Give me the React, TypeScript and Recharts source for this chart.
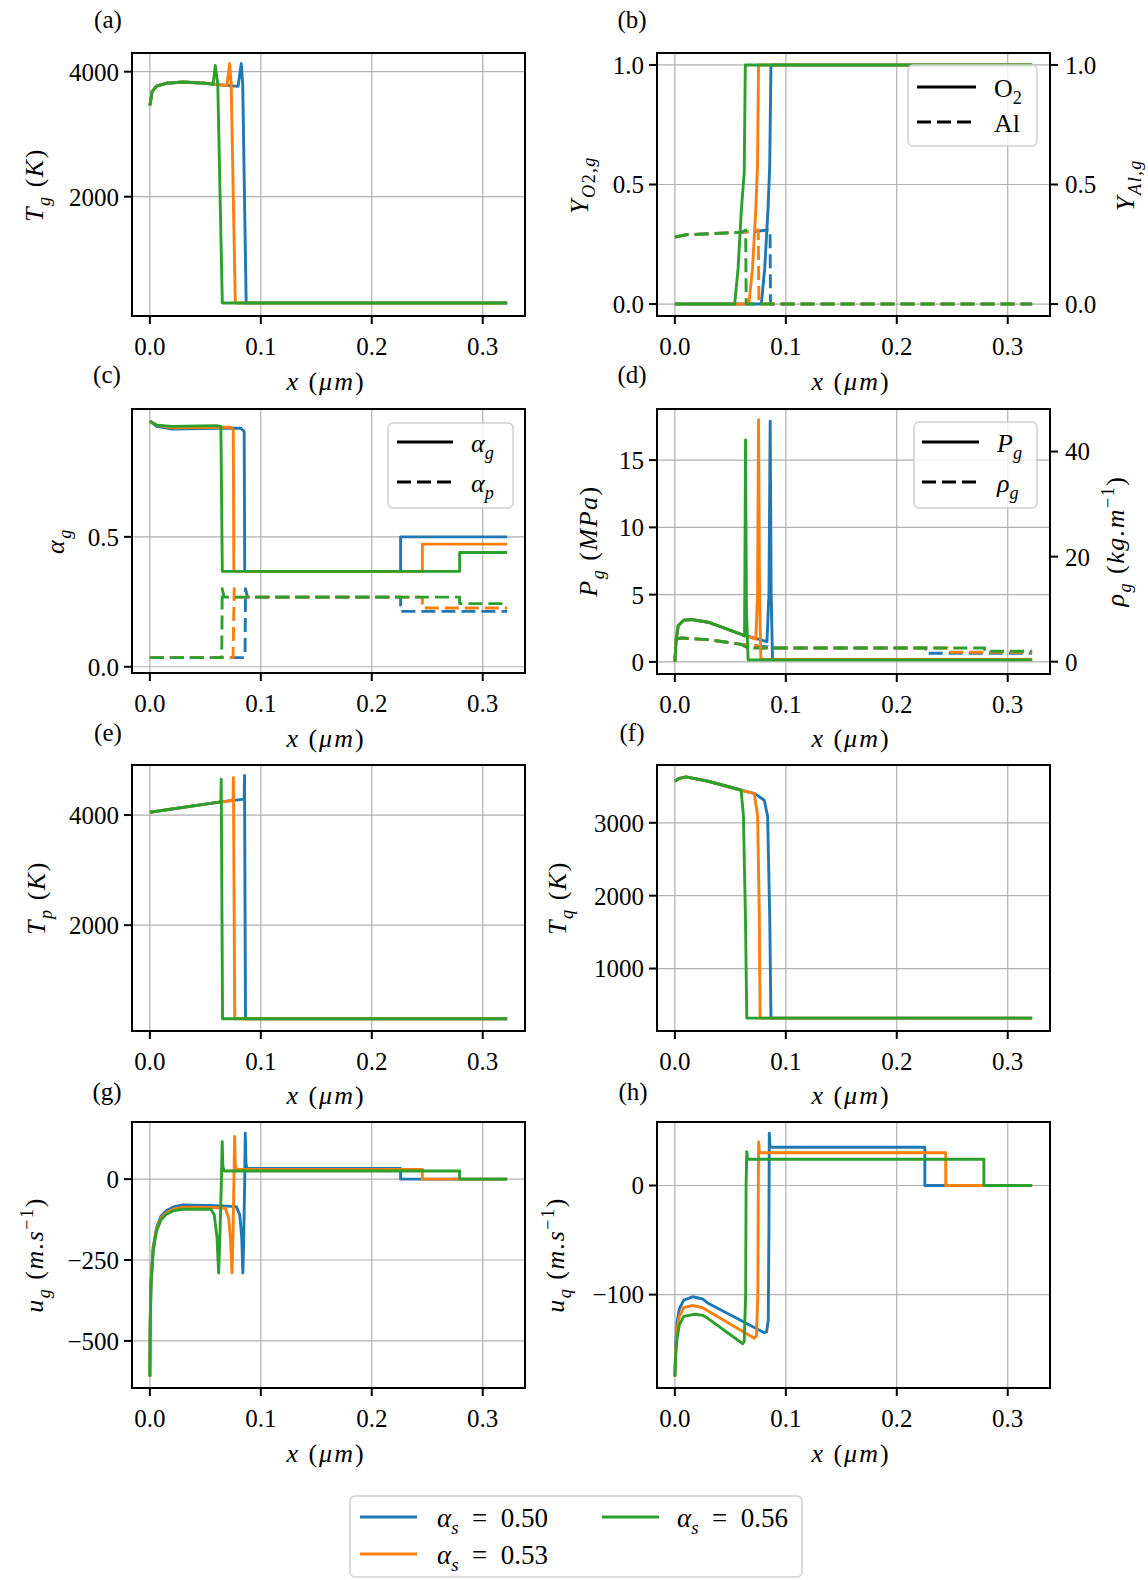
import React from "react";
import { CartesianGrid, Line, LineChart, ReferenceArea, XAxis, YAxis } from "recharts";

type Pt = [number, number];

const FONT = "'Liberation Serif', 'DejaVu Serif', serif";
const blue = "#1f77b4";
const orange = "#ff7f0e";
const green = "#2ca02c";
const dash = "14 6";
const lw = 2.9;

const xDomain = [-0.0161, 0.3381];
const xTicks = [0, 0.1, 0.2, 0.3];
const alphaLabels = ["0.50", "0.53", "0.56"];

// (a) gas temperature
const tgBlue: Pt[] = [[0, 3460], [0.002, 3680], [0.006, 3770], [0.015, 3815], [0.03, 3835], [0.05, 3815], [0.062, 3790], [0.0795, 3765], [0.0824, 4130], [0.0837, 3790], [0.0868, 300], [0.322, 300]];
const tgOrange: Pt[] = [[0, 3460], [0.002, 3680], [0.006, 3770], [0.015, 3815], [0.03, 3835], [0.05, 3815], [0.062, 3790], [0.0695, 3780], [0.0719, 4130], [0.0733, 3790], [0.077, 300], [0.322, 300]];
const tgGreen: Pt[] = [[0, 3460], [0.002, 3680], [0.006, 3770], [0.015, 3815], [0.03, 3835], [0.05, 3815], [0.057, 3800], [0.059, 4100], [0.0612, 3800], [0.0653, 300], [0.322, 300]];

// (b) O2 (solid) and Al (dashed) mass fractions
const o2Blue: Pt[] = [[0, 0], [0.0779, 0], [0.081, 0.15], [0.084, 0.4], [0.0855, 0.58], [0.0866, 1], [0.322, 1]];
const o2Orange: Pt[] = [[0, 0], [0.0667, 0], [0.07, 0.15], [0.073, 0.4], [0.0745, 0.58], [0.0754, 1], [0.322, 1]];
const o2Green: Pt[] = [[0, 0], [0.0539, 0], [0.057, 0.15], [0.06, 0.4], [0.0625, 0.55], [0.0635, 1], [0.322, 1]];
const alBlue: Pt[] = [[0, 0.28], [0.01, 0.29], [0.06, 0.3], [0.0858, 0.31], [0.0862, 0], [0.322, 0]];
const alOrange: Pt[] = [[0, 0.28], [0.01, 0.29], [0.06, 0.3], [0.0752, 0.31], [0.0757, 0], [0.322, 0]];
const alGreen: Pt[] = [[0, 0.28], [0.01, 0.29], [0.06, 0.3], [0.0638, 0.31], [0.0643, 0], [0.322, 0]];

// (c) gas (solid) and particle (dashed) volume fractions
const agBlue: Pt[] = [[0, 0.945], [0.006, 0.925], [0.02, 0.915], [0.06, 0.918], [0.082, 0.918], [0.085, 0.905], [0.0855, 0.367], [0.226, 0.367], [0.226, 0.5], [0.322, 0.5]];
const agOrange: Pt[] = [[0, 0.945], [0.006, 0.93], [0.02, 0.92], [0.06, 0.922], [0.073, 0.922], [0.0752, 0.91], [0.0757, 0.367], [0.2456, 0.367], [0.2456, 0.472], [0.322, 0.472]];
const agGreen: Pt[] = [[0, 0.945], [0.006, 0.93], [0.02, 0.925], [0.06, 0.928], [0.064, 0.925], [0.0653, 0.367], [0.2792, 0.367], [0.2792, 0.44], [0.322, 0.44]];
const apBlue: Pt[] = [[0, 0.035], [0.085, 0.035], [0.0858, 0.05], [0.0862, 0.3], [0.088, 0.268], [0.226, 0.268], [0.226, 0.213], [0.322, 0.213]];
const apOrange: Pt[] = [[0, 0.035], [0.075, 0.035], [0.076, 0.3], [0.078, 0.268], [0.2456, 0.268], [0.2456, 0.226], [0.322, 0.226]];
const apGreen: Pt[] = [[0, 0.035], [0.0648, 0.035], [0.0652, 0.3], [0.067, 0.268], [0.2792, 0.268], [0.2792, 0.243], [0.322, 0.243]];

// (d) pressure (solid, MPa) and density (dashed, right axis)
const pBlue: Pt[] = [[0, 0], [0.001, 1.5], [0.003, 2.7], [0.008, 3.1], [0.015, 3.15], [0.03, 2.95], [0.06, 2.05], [0.083, 1.5], [0.0848, 5], [0.0859, 17.9], [0.0868, 5], [0.088, 0.18], [0.322, 0.18]];
const pOrange: Pt[] = [[0, 0], [0.001, 1.5], [0.003, 2.7], [0.008, 3.1], [0.015, 3.15], [0.03, 2.95], [0.06, 2.05], [0.073, 1.7], [0.0745, 5], [0.0754, 18], [0.0763, 5], [0.0775, 0.18], [0.322, 0.18]];
const pGreen: Pt[] = [[0, 0], [0.001, 1.5], [0.003, 2.7], [0.008, 3.1], [0.015, 3.15], [0.03, 2.95], [0.06, 2.05], [0.0628, 1.9], [0.0637, 16.5], [0.0645, 4], [0.066, 0.15], [0.322, 0.15]];
const rhoBlue: Pt[] = [[0, 4.2], [0.005, 4.5], [0.03, 4.2], [0.06, 3.3], [0.084, 2.8], [0.087, 2.6], [0.226, 2.6], [0.226, 1.6], [0.322, 1.6]];
const rhoOrange: Pt[] = [[0, 4.2], [0.005, 4.5], [0.03, 4.2], [0.06, 3.3], [0.074, 3.0], [0.077, 2.6], [0.2456, 2.6], [0.2456, 1.8], [0.322, 1.8]];
const rhoGreen: Pt[] = [[0, 4.2], [0.005, 4.5], [0.03, 4.2], [0.06, 3.3], [0.063, 2.9], [0.066, 2.6], [0.2792, 2.6], [0.2792, 2.0], [0.322, 2.0]];

// (e) particle temperature
const tpBlue: Pt[] = [[0, 4050], [0.064, 4240], [0.085, 4290], [0.0853, 4720], [0.0862, 300], [0.322, 300]];
const tpOrange: Pt[] = [[0, 4050], [0.064, 4240], [0.075, 4265], [0.0753, 4680], [0.0765, 300], [0.322, 300]];
const tpGreen: Pt[] = [[0, 4050], [0.064, 4240], [0.0643, 4650], [0.0655, 300], [0.322, 300]];

// (f) condensed phase temperature
const tqBlue: Pt[] = [[0, 3570], [0.004, 3610], [0.01, 3630], [0.03, 3570], [0.059, 3450], [0.072, 3400], [0.0806, 3310], [0.0836, 3090], [0.0855, 1710], [0.0866, 320], [0.322, 320]];
const tqOrange: Pt[] = [[0, 3570], [0.004, 3610], [0.01, 3630], [0.03, 3570], [0.059, 3450], [0.0716, 3400], [0.0746, 3090], [0.0761, 1710], [0.0768, 320], [0.322, 320]];
const tqGreen: Pt[] = [[0, 3570], [0.004, 3610], [0.01, 3630], [0.03, 3570], [0.0597, 3450], [0.0618, 3090], [0.0636, 1710], [0.0648, 320], [0.322, 320]];

// (g) gas velocity
const ugBlue: Pt[] = [[0, -610], [0.0003, -450], [0.001, -320], [0.003, -210], [0.006, -150], [0.01, -115], [0.015, -97], [0.022, -85], [0.03, -80], [0.06, -82], [0.0779, -85], [0.081, -110], [0.0828, -180], [0.0838, -290], [0.0845, -200], [0.0855, 0], [0.086, 142], [0.0866, 50], [0.0875, 33], [0.226, 33], [0.226, 0], [0.322, 0]];
const ugOrange: Pt[] = [[0, -610], [0.0003, -450], [0.001, -325], [0.003, -215], [0.006, -155], [0.01, -120], [0.015, -103], [0.022, -92], [0.03, -87], [0.06, -88], [0.068, -90], [0.071, -120], [0.0728, -190], [0.074, -290], [0.0748, -190], [0.0758, 0], [0.0764, 132], [0.077, 45], [0.078, 30], [0.2456, 30], [0.2456, 0], [0.322, 0]];
const ugGreen: Pt[] = [[0, -610], [0.0003, -450], [0.001, -330], [0.003, -220], [0.006, -160], [0.01, -126], [0.015, -108], [0.022, -97], [0.03, -93], [0.055, -93], [0.058, -110], [0.0605, -180], [0.062, -290], [0.063, -190], [0.0645, 0], [0.0652, 116], [0.0658, 40], [0.067, 25], [0.2792, 25], [0.2792, 0], [0.322, 0]];

// (h) condensed phase velocity
const uqBlue: Pt[] = [[0, -175], [0.0008, -145], [0.002, -125], [0.004, -113], [0.008, -105], [0.016, -102], [0.025, -104], [0.03, -108], [0.0806, -135], [0.0827, -134], [0.0842, -123], [0.0848, -34], [0.0851, 48], [0.0858, 36], [0.088, 35], [0.2253, 35], [0.2253, 0], [0.322, 0]];
const uqOrange: Pt[] = [[0, -175], [0.0008, -150], [0.002, -132], [0.004, -120], [0.008, -112], [0.016, -110], [0.025, -112], [0.03, -115], [0.0716, -140], [0.0735, -138], [0.0748, -100], [0.0752, 0], [0.0755, 40], [0.0762, 30], [0.2441, 30], [0.2441, 0], [0.322, 0]];
const uqGreen: Pt[] = [[0, -175], [0.0008, -155], [0.002, -140], [0.004, -128], [0.008, -120], [0.018, -118], [0.025, -119], [0.03, -122], [0.0612, -145], [0.0625, -143], [0.0638, -100], [0.0642, 0], [0.0648, 31], [0.0655, 24], [0.2785, 24], [0.2785, 0], [0.322, 0]];

const num = (v: number) => (v < 0 ? "\u2212" + Math.abs(v) : String(v));
const fix1 = (v: number) => v.toFixed(1);

type Series = { pts: Pt[]; color: string; dashed?: boolean; right?: boolean };
type Box = { x: number; y: number; w: number; h: number };

const tickText = { fill: "#000", fontSize: 25, fontFamily: FONT };
const blackLine = { stroke: "#000", strokeWidth: 2 };

function Panel({ box, yDomain, yTicks, yFmt, rDomain, rTicks, series }: {
  box: Box;
  yDomain: number[];
  yTicks: number[];
  yFmt: (v: number) => string;
  rDomain?: number[];
  rTicks?: number[];
  series: Series[];
}) {
  const LW = 110;
  const RW = rDomain ? 70 : 0;
  const top = 10;
  const right = 10;
  const bottom = 50;
  return (
    <div style={{ position: "absolute", left: box.x - LW, top: box.y - top }}>
      <LineChart width={LW + box.w + RW + right} height={top + box.h + bottom} margin={{ top, right, bottom: 0, left: 0 }}>
        <CartesianGrid stroke="#b0b0b0" strokeWidth={1.2} />
        <XAxis type="number" dataKey="x" domain={xDomain} ticks={xTicks} interval={0} allowDataOverflow height={bottom}
          tickSize={8} tickMargin={13} tick={tickText} tickLine={blackLine} axisLine={blackLine} tickFormatter={fix1} />
        <YAxis type="number" domain={yDomain} ticks={yTicks} interval={0} allowDataOverflow width={LW}
          tickSize={8} tickMargin={5} tick={tickText} tickLine={blackLine} axisLine={blackLine} tickFormatter={yFmt} />
        {rDomain && (
          <YAxis yAxisId="r" orientation="right" type="number" domain={rDomain} ticks={rTicks} interval={0} allowDataOverflow width={RW}
            tickSize={8} tickMargin={7} tick={tickText} tickLine={blackLine} axisLine={blackLine} tickFormatter={yFmt} />
        )}
        <ReferenceArea x1={xDomain[0]} x2={xDomain[1]} y1={yDomain[0]} y2={yDomain[1]} fill="none" stroke="#000" strokeWidth={2} ifOverflow="visible" />
        {series.map((s, i) => (
          <Line key={i} yAxisId={s.right ? "r" : 0} data={s.pts.map(([x, y]) => ({ x, y }))} dataKey="y" type="linear"
            stroke={s.color} strokeWidth={lw} strokeDasharray={s.dashed ? dash : undefined} strokeLinejoin="round"
            dot={false} activeDot={false} isAnimationActive={false} />
        ))}
      </LineChart>
    </div>
  );
}

type Tok = { t: string; i?: boolean; s?: "sub" | "sup" };

function MathText({ toks, size }: { toks: Tok[]; size: number }) {
  let cur = 0;
  return (
    <>
      {toks.map((k, j) => {
        const off = k.s === "sub" ? size * 0.25 : k.s === "sup" ? -size * 0.4 : 0;
        const dy = off - cur;
        cur = off;
        return (
          <tspan key={j} dy={dy} fontStyle={k.i ? "italic" : "normal"} fontSize={k.s ? size * 0.7 : size}>{k.t}</tspan>
        );
      })}
    </>
  );
}

function YTitle({ cx, cy, toks }: { cx: number; cy: number; toks: Tok[] }) {
  return (
    <text transform={`translate(${cx + 9},${cy}) rotate(-90)`} textAnchor="middle" fontFamily={FONT} fontSize={26} letterSpacing={1.5} style={{ whiteSpace: "pre" }}>
      <MathText toks={toks} size={26} />
    </text>
  );
}

function XTitle({ cx, cy }: { cx: number; cy: number }) {
  return (
    <text x={cx} y={cy + 8} textAnchor="middle" fontFamily={FONT} fontSize={26} letterSpacing={2} style={{ whiteSpace: "pre" }}>
      <MathText toks={[{ t: "x", i: true }, { t: " (" }, { t: "μm", i: true }, { t: ")" }]} size={26} />
    </text>
  );
}

function Letter({ cx, cy, s }: { cx: number; cy: number; s: string }) {
  return <text x={cx} y={cy + 8} textAnchor="middle" fontFamily={FONT} fontSize={25}>({s})</text>;
}

function InnerLegend({ x, y, w, h, x1, x2, tx, rows }: { x: number; y: number; w: number; h: number; x1: number; x2: number; tx: number; rows: { ly: number; dashed: boolean; toks: Tok[] }[] }) {
  return (
    <g>
      <rect x={x} y={y} width={w} height={h} rx={5} fill="#fff" fillOpacity={0.8} stroke="#d0d0d0" strokeWidth={1.5} />
      {rows.map((r, i) => (
        <g key={i}>
          <line x1={x1} x2={x2} y1={r.ly} y2={r.ly} stroke="#000" strokeWidth={lw} strokeDasharray={r.dashed ? dash : undefined} />
          <text x={tx} y={r.ly + 10} fontFamily={FONT} fontSize={26} style={{ whiteSpace: "pre" }}>
            <MathText toks={r.toks} size={26} />
          </text>
        </g>
      ))}
    </g>
  );
}

const sub = (t: string, i = true): Tok => ({ t, i, s: "sub" });
const it = (t: string): Tok => ({ t, i: true });

export default function App() {
  const colL = 132;
  const colR = 657;
  const w = 393;
  return (
    <div style={{ position: "absolute", left: 0, top: 0, width: 1148, height: 1580, background: "#fff" }}>
      <Panel box={{ x: colL, y: 53, w, h: 263 }} yDomain={[91, 4299]} yTicks={[2000, 4000]} yFmt={num}
        series={[{ pts: tgBlue, color: blue }, { pts: tgOrange, color: orange }, { pts: tgGreen, color: green }]} />
      <Panel box={{ x: colR, y: 53, w, h: 263 }} yDomain={[-0.05, 1.05]} yTicks={[0, 0.5, 1]} yFmt={fix1}
        rDomain={[-0.05, 1.05]} rTicks={[0, 0.5, 1]}
        series={[
          { pts: o2Blue, color: blue }, { pts: o2Orange, color: orange }, { pts: o2Green, color: green },
          { pts: alBlue, color: blue, dashed: true, right: true }, { pts: alOrange, color: orange, dashed: true, right: true }, { pts: alGreen, color: green, dashed: true, right: true },
        ]} />
      <Panel box={{ x: colL, y: 409, w, h: 264 }} yDomain={[-0.024, 0.992]} yTicks={[0, 0.5]} yFmt={fix1}
        series={[
          { pts: agBlue, color: blue }, { pts: agOrange, color: orange }, { pts: agGreen, color: green },
          { pts: apBlue, color: blue, dashed: true }, { pts: apOrange, color: orange, dashed: true }, { pts: apGreen, color: green, dashed: true },
        ]} />
      <Panel box={{ x: colR, y: 409, w, h: 265 }} yDomain={[-0.9, 18.8]} yTicks={[0, 5, 10, 15]} yFmt={num}
        rDomain={[-2.34, 48.1]} rTicks={[0, 20, 40]}
        series={[
          { pts: rhoBlue, color: blue, dashed: true, right: true }, { pts: rhoOrange, color: orange, dashed: true, right: true }, { pts: rhoGreen, color: green, dashed: true, right: true },
          { pts: pBlue, color: blue }, { pts: pOrange, color: orange }, { pts: pGreen, color: green },
        ]} />
      <Panel box={{ x: colL, y: 765, w, h: 266 }} yDomain={[78, 4909]} yTicks={[2000, 4000]} yFmt={num}
        series={[{ pts: tpBlue, color: blue }, { pts: tpOrange, color: orange }, { pts: tpGreen, color: green }]} />
      <Panel box={{ x: colR, y: 765, w, h: 266 }} yDomain={[143, 3793]} yTicks={[1000, 2000, 3000]} yFmt={num}
        series={[{ pts: tqBlue, color: blue }, { pts: tqOrange, color: orange }, { pts: tqGreen, color: green }]} />
      <Panel box={{ x: colL, y: 1122, w, h: 266 }} yDomain={[-645.6, 176.6]} yTicks={[-500, -250, 0]} yFmt={num}
        series={[{ pts: ugBlue, color: blue }, { pts: ugOrange, color: orange }, { pts: ugGreen, color: green }]} />
      <Panel box={{ x: colR, y: 1122, w, h: 266 }} yDomain={[-185.6, 58.2]} yTicks={[-100, 0]} yFmt={num}
        series={[{ pts: uqBlue, color: blue }, { pts: uqOrange, color: orange }, { pts: uqGreen, color: green }]} />

      <svg width={1148} height={1580} style={{ position: "absolute", left: 0, top: 0, pointerEvents: "none" }}>
        <Letter cx={108} cy={20} s="a" />
        <Letter cx={632} cy={20} s="b" />
        <Letter cx={107} cy={375} s="c" />
        <Letter cx={632} cy={375} s="d" />
        <Letter cx={108} cy={733} s="e" />
        <Letter cx={632} cy={733} s="f" />
        <Letter cx={107} cy={1092} s="g" />
        <Letter cx={633} cy={1092} s="h" />

        <XTitle cx={326} cy={382} />
        <XTitle cx={851} cy={382} />
        <XTitle cx={326} cy={739} />
        <XTitle cx={851} cy={739} />
        <XTitle cx={326} cy={1096} />
        <XTitle cx={851} cy={1096} />
        <XTitle cx={326} cy={1454} />
        <XTitle cx={851} cy={1454} />

        <YTitle cx={34} cy={185} toks={[it("T"), sub("g"), { t: " (" }, it("K"), { t: ")" }]} />
        <YTitle cx={579} cy={185} toks={[it("Y"), sub("O"), sub("2,", false), sub("g")]} />
        <YTitle cx={1125} cy={185} toks={[it("Y"), sub("Al,"), sub("g")]} />
        <YTitle cx={55} cy={541} toks={[it("α"), sub("g")]} />
        <YTitle cx={588} cy={541} toks={[it("P"), sub("g"), { t: " (" }, it("MPa"), { t: ")" }]} />
        <YTitle cx={1115} cy={541} toks={[it("ρ"), sub("g"), { t: " (" }, it("kg.m"), { t: "\u22121", s: "sup" }, { t: ")" }]} />
        <YTitle cx={36} cy={898} toks={[it("T"), sub("p"), { t: " (" }, it("K"), { t: ")" }]} />
        <YTitle cx={557} cy={898} toks={[it("T"), sub("q"), { t: " (" }, it("K"), { t: ")" }]} />
        <YTitle cx={34} cy={1255} toks={[it("u"), sub("g"), { t: " (" }, it("m.s"), { t: "\u22121", s: "sup" }, { t: ")" }]} />
        <YTitle cx={555} cy={1255} toks={[it("u"), sub("q"), { t: " (" }, it("m.s"), { t: "\u22121", s: "sup" }, { t: ")" }]} />

        <InnerLegend x={908} y={65} w={129} h={81} x1={917} x2={976} tx={994}
          rows={[{ ly: 87, dashed: false, toks: [{ t: "O" }, sub("2", false)] }, { ly: 122, dashed: true, toks: [{ t: "Al" }] }]} />
        <InnerLegend x={388} y={423} w={125} h={85} x1={397} x2={453} tx={471}
          rows={[{ ly: 442, dashed: false, toks: [it("α"), sub("g")] }, { ly: 482, dashed: true, toks: [it("α"), sub("p")] }]} />
        <InnerLegend x={914} y={422} w={123} h={86} x1={922} x2={979} tx={997}
          rows={[{ ly: 442, dashed: false, toks: [it("P"), sub("g")] }, { ly: 482, dashed: true, toks: [it("ρ"), sub("g")] }]} />

        <g>
          <rect x={350} y={1496} width={452} height={81} rx={5} fill="#fff" stroke="#d0d0d0" strokeWidth={1.5} />
          {[
            { c: blue, lx: 360, tx: 437, y: 1517, v: alphaLabels[0] },
            { c: orange, lx: 360, tx: 437, y: 1554, v: alphaLabels[1] },
            { c: green, lx: 602, tx: 677, y: 1517, v: alphaLabels[2] },
          ].map((e, i) => (
            <g key={i}>
              <line x1={e.lx} x2={e.lx + 57} y1={e.y} y2={e.y} stroke={e.c} strokeWidth={lw} />
              <text x={e.tx} y={e.y + 10} fontFamily={FONT} fontSize={27} style={{ whiteSpace: "pre" }}>
                <MathText toks={[it("α"), sub("s"), { t: "  =  " + e.v }]} size={27} />
              </text>
            </g>
          ))}
        </g>
      </svg>
    </div>
  );
}
